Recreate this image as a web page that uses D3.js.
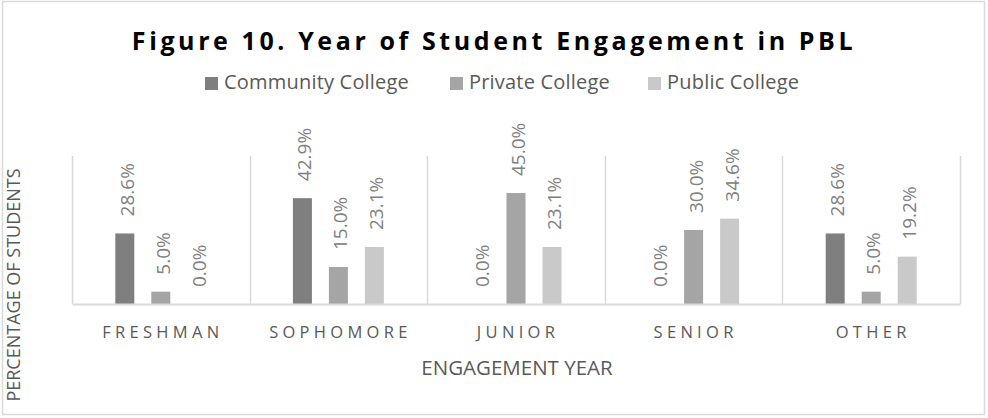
<!DOCTYPE html>
<html>
<head>
<meta charset="utf-8">
<script src="https://cdn.jsdelivr.net/npm/d3@7"></script>
<style>
  html, body { margin: 0; padding: 0; background: #fff; }
  svg { display: block; }
  text { font-family: "Open Sans", "DejaVu Sans", sans-serif; }
</style>
</head>
<body>
<div id="chart"></div>
<script>
// Share of students by year of first engagement in PBL, per college type
const categories = ["FRESHMAN", "SOPHOMORE", "JUNIOR", "SENIOR", "OTHER"];
const seriesNames = ["Community College", "Private College", "Public College"];
const communityCollege = [28.6, 42.9, 0.0, 0.0, 28.6];
const privateCollege = [5.0, 15.0, 45.0, 30.0, 5.0];
const publicCollege = [0.0, 23.1, 23.1, 34.6, 19.2];
const seriesColors = ["#7f7f7f", "#a5a5a5", "#c9c9c9"];

const seriesValues = [communityCollege, privateCollege, publicCollege];

const W = 988, H = 418;
const plot = { left: 72, right: 960, top: 156, bottom: 304 };

const svg = d3.select("#chart").append("svg")
  .attr("width", W).attr("height", H);

// chart frame
svg.append("rect")
  .attr("x", 2.5).attr("y", 1.5).attr("width", 982).attr("height", 413)
  .attr("fill", "#fff").attr("stroke", "#d9d9d9").attr("stroke-width", 1.5);

// title
svg.append("text")
  .attr("x", 494).attr("y", 50)
  .attr("text-anchor", "middle")
  .attr("font-size", 25).attr("font-weight", "bold")
  .attr("letter-spacing", 3.6)
  .attr("fill", "#000")
  .text("Figure 10. Year of Student Engagement in PBL");

// legend
const legendX = [205, 450, 648];
const legend = svg.append("g");
seriesNames.forEach((name, i) => {
  legend.append("rect")
    .attr("x", legendX[i]).attr("y", 77).attr("width", 13).attr("height", 13)
    .attr("fill", seriesColors[i]);
  legend.append("text")
    .attr("x", legendX[i] + 19).attr("y", 89)
    .attr("font-size", 20).attr("fill", "#595959")
    .attr("letter-spacing", 0.2)
    .text(name);
});

// scales
const x0 = d3.scaleBand().domain(categories).range([plot.left, plot.right]).padding(0);
const y = d3.scaleLinear().domain([0, 60]).range([plot.bottom, plot.top]);
const barW = 19, barStep = 36;

// category separators
const seps = svg.append("g");
d3.range(categories.length + 1).forEach(i => {
  const xx = Math.round(plot.left + i * x0.bandwidth()) + 0.5;
  seps.append("line")
    .attr("x1", xx).attr("x2", xx)
    .attr("y1", plot.top).attr("y2", plot.bottom)
    .attr("stroke", "#d9d9d9").attr("stroke-width", 1.5);
});

// bars and value labels
seriesValues.forEach((vals, si) => {
  const g = svg.append("g");
  vals.forEach((v, ci) => {
    const cx = x0(categories[ci]) + x0.bandwidth() / 2 + (si - 1) * barStep;
    g.append("rect")
      .attr("x", cx - barW / 2).attr("y", y(v))
      .attr("width", barW).attr("height", y(0) - y(v))
      .attr("fill", seriesColors[si]);
    const lx = cx + 9, ly = y(v) - 17;
    g.append("text")
      .attr("transform", `translate(${lx},${ly}) rotate(-90)`)
      .attr("font-size", 19).attr("fill", "#808080")
      .text(v.toFixed(1) + "%");
  });
});

// x axis baseline and category labels
const xAxis = d3.axisBottom(x0).tickSize(0).tickPadding(0);
const ax = svg.append("g").attr("transform", `translate(0,${plot.bottom})`).call(xAxis);
ax.select(".domain").attr("stroke", "#d9d9d9").attr("stroke-width", 2);
ax.selectAll(".tick text")
  .attr("y", 34).attr("dy", 0)
  .attr("font-family", "'Open Sans', sans-serif")
  .attr("font-size", 16.5).attr("fill", "#595959")
  .attr("letter-spacing", 4.3)
  .attr("dx", 2);

// axis titles
svg.append("text")
  .attr("x", 517).attr("y", 375)
  .attr("text-anchor", "middle")
  .attr("font-size", 20.5).attr("fill", "#595959")
  .text("ENGAGEMENT YEAR");

svg.append("text")
  .attr("transform", "translate(20,285) rotate(-90)")
  .attr("text-anchor", "middle")
  .attr("font-size", 18).attr("fill", "#595959")
  .text("PERCENTAGE OF STUDENTS");
</script>
</body>
</html>
